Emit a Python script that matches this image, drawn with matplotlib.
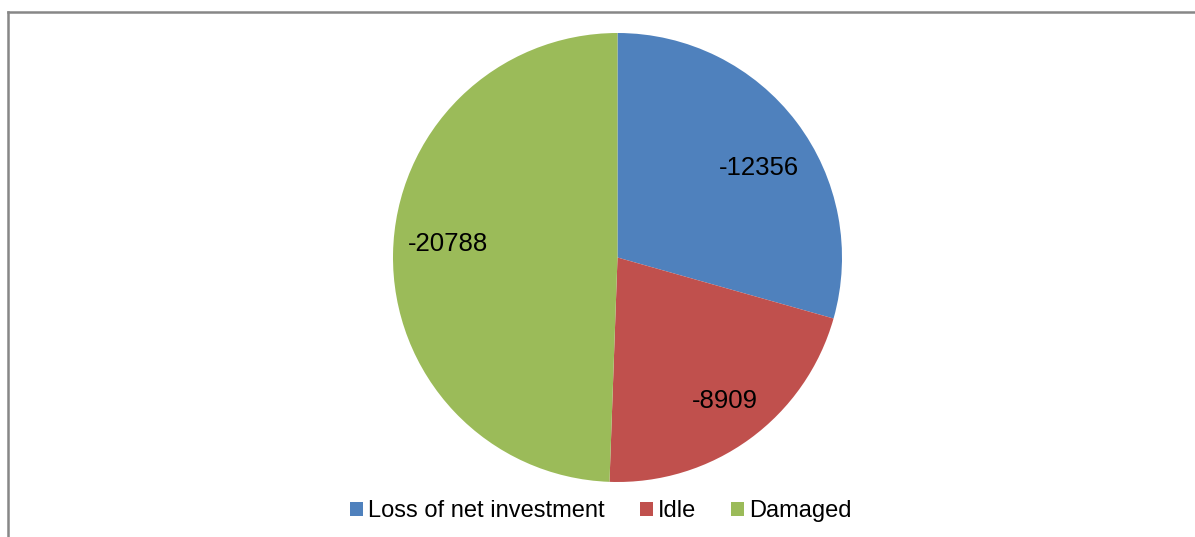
import matplotlib
matplotlib.use("Agg")
import numpy as np
import matplotlib.pyplot as plt
from matplotlib.lines import Line2D
from matplotlib.patches import Patch

plt.rcParams["font.family"] = ["Liberation Sans", "DejaVu Sans"]

categories = ["Loss of net investment", "Idle", "Damaged"]
values = [-12356, -8909, -20788]
colors = ["#4F81BD", "#C0504D", "#9BBB59"]

W, H = 1195, 537
fig = plt.figure(figsize=(W / 100, H / 100), dpi=100)

# pie area: square box in pixels
cx, cy, r = 617.5, 257.5, 224.5
ax = fig.add_axes([(cx - r) / W, (H - cy - r) / H, 2 * r / W, 2 * r / H])

sizes = [abs(v) for v in values]
wedges, _ = ax.pie(
    sizes, colors=colors, startangle=90, counterclock=False,
    radius=1, labels=None, wedgeprops=dict(linewidth=0),
)
ax.set_xlim(-1, 1); ax.set_ylim(-1, 1)
ax.set_aspect("equal")
ax.axis("off")

# data labels placed inside each wedge (Excel "best fit")
label_r = [0.75, 0.79, 0.76]
label_shift = [-4, 1.0, -4.4]  # degrees, nudges along the arc
for w, v, lr, sh in zip(wedges, values, label_r, label_shift):
    mid = np.deg2rad((w.theta1 + w.theta2) / 2 + sh)
    ax.text(lr * np.cos(mid), lr * np.sin(mid) - 0.01, f"{v}",
            ha="center", va="center", fontsize=18.5, color="black")

# chart frame: only top and left edges visible
fig.add_artist(Line2D([8 / W, 8 / W], [0, 1 - 11.5 / H], transform=fig.transFigure,
                      color="#878787", lw=1.8))
fig.add_artist(Line2D([8 / W, 1], [1 - 11.5 / H, 1 - 11.5 / H], transform=fig.transFigure,
                      color="#878787", lw=1.8))

handles = [Patch(facecolor=c, edgecolor="none") for c in colors]
fig.legend(handles, categories, loc="center", bbox_to_anchor=(601 / W, 1 - 511 / H),
           ncol=3, frameon=False, fontsize=17, handlelength=0.55, handleheight=0.55,
           handletextpad=0.2, columnspacing=1.5, borderaxespad=0, borderpad=0)

fig.savefig("out.png", dpi=100, facecolor="white")
